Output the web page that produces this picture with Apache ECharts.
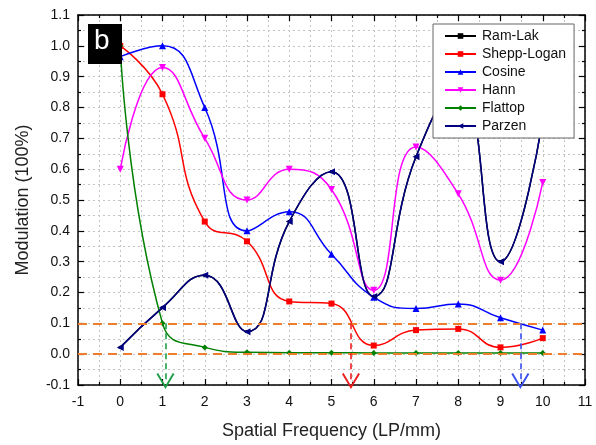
<!DOCTYPE html>
<html>
<head>
<meta charset="utf-8">
<script src="https://cdn.jsdelivr.net/npm/echarts@6/dist/echarts.min.js"></script>
<style>html,body{margin:0;padding:0;background:#fff}#c{width:596px;height:445px}</style>
</head>
<body>
<div id="c"></div>
<script>
var freq = [0, 1, 2, 3, 4, 5, 6, 7, 8, 9, 10];
var ramLak     = [0.022, 0.151, 0.256, 0.073, 0.43, 0.592, 0.187, 0.64, 0.87, 0.30, 0.76];
var sheppLogan = [1.0, 0.843, 0.43, 0.366, 0.171, 0.164, 0.028, 0.078, 0.082, 0.022, 0.052];
var cosine     = [0.965, 1.0, 0.80, 0.40, 0.462, 0.324, 0.185, 0.148, 0.163, 0.118, 0.078];
var hann       = [0.60, 0.93, 0.70, 0.50, 0.60, 0.534, 0.207, 0.672, 0.52, 0.24, 0.557];
var flattop    = [1.0, 0.10, 0.022, 0.006, 0.005, 0.005, 0.004, 0.004, 0.004, 0.004, 0.004];
var parzen     = [0.022, 0.151, 0.256, 0.073, 0.43, 0.592, 0.187, 0.64, 0.87, 0.30, 0.76];
var xTicks = [-1, 11, 1];
var yTicks = [-0.1, 1.1, 0.1];
var thresholds = [0.1, 0.0];
var arrows = [{x: 1.07, color: '#1e9e46'}, {x: 5.46, color: '#ee1c1c'}, {x: 9.47, color: '#3a50f0'}];

function pairs(arr) { return freq.map(function (f, i) { return [f, arr[i]]; }); }
var chevron = 'path://M0,16 L9,0 L18,16 L16.3,17 L9,3.6 L1.7,17 Z';
var gridLine = {color: '#c4c4c4', type: [2, 3], width: 1};
var axisLineStyle = {color: '#000', width: 1.5};

function mkX(pos, main) {
  return {
    type: 'value', position: pos, min: xTicks[0], max: xTicks[1], interval: xTicks[2],
    axisLine: {show: true, onZero: false, lineStyle: axisLineStyle},
    axisTick: {show: true, inside: true, length: 6, lineStyle: {color: '#000', width: 1.2}},
    minorTick: {show: true, splitNumber: 2, length: 3, lineStyle: {color: '#000', width: 1.2}},
    splitLine: {show: main, lineStyle: gridLine},
    minorSplitLine: {show: main, lineStyle: gridLine},
    axisLabel: {show: main, fontSize: 14, color: '#111', fontFamily: 'Liberation Sans', margin: 10},
    name: main ? 'Spatial Frequency (LP/mm)' : '', nameLocation: 'middle', nameGap: 37,
    nameTextStyle: {fontSize: 18, color: '#222', fontFamily: 'Liberation Sans'}
  };
}
function mkY(pos, main) {
  return {
    type: 'value', position: pos, min: yTicks[0], max: yTicks[1], interval: yTicks[2],
    axisLine: {show: true, onZero: false, lineStyle: axisLineStyle},
    axisTick: {show: true, inside: true, length: 6, lineStyle: {color: '#000', width: 1.2}},
    minorTick: {show: true, splitNumber: 2, length: 3, lineStyle: {color: '#000', width: 1.2}},
    splitLine: {show: main, lineStyle: gridLine},
    minorSplitLine: {show: main, lineStyle: gridLine},
    axisLabel: {show: main, fontSize: 14, color: '#111', fontFamily: 'Liberation Sans', margin: 8,
      formatter: function (v) { return (Math.round(v * 10) / 10).toFixed(1); }},
    name: main ? 'Modulation (100%)' : '', nameLocation: 'middle', nameGap: 46,
    nameTextStyle: {fontSize: 18, color: '#222', fontFamily: 'Liberation Sans'}
  };
}

function line(name, arr, color, symbol, rot, size, extra) {
  var s = {
    name: name, type: 'line', data: pairs(arr), smooth: 0.5,
    symbol: symbol, symbolSize: size, symbolRotate: rot || 0,
    lineStyle: {color: color, width: 1.5}, itemStyle: {color: color},
    xAxisIndex: 0, yAxisIndex: 0, clip: false, animation: false
  };
  if (extra) for (var k in extra) s[k] = extra[k];
  return s;
}

var hLines = {
  silent: true, symbol: ['none', 'none'], label: {show: false},
  lineStyle: {color: '#ef7d2e', type: [9, 6], width: 2.2},
  data: thresholds.map(function (t) { return {yAxis: t}; })
};
var vArrows = {
  silent: true, symbol: ['none', chevron], symbolSize: [18, 16], label: {show: false},
  lineStyle: {type: [6, 4], width: 1.6},
  data: arrows.map(function (a) {
    return [{coord: [a.x, thresholds[0]], lineStyle: {color: a.color}, itemStyle: {color: a.color}},
            {coord: [a.x, -0.087], lineStyle: {color: a.color}, itemStyle: {color: a.color}}];
  })
};

var chart = echarts.init(document.getElementById('c'), null, {renderer: 'canvas'});
chart.setOption({
  animation: false,
  backgroundColor: '#fff',
  grid: {left: 78, right: 11, top: 15, bottom: 58, containLabel: false},
  xAxis: [mkX('bottom', true), mkX('top', false)],
  yAxis: [mkY('left', true), mkY('right', false)],
  legend: {
    orient: 'vertical', left: 433, top: 24, itemWidth: 31, itemHeight: 7, itemGap: 2,
    padding: [4, 8, 4, 11], backgroundColor: '#fff', borderColor: '#666', borderWidth: 1,
    textStyle: {fontSize: 14, color: '#111', fontFamily: 'Liberation Sans', lineHeight: 16, padding: [0, 0, 0, 1]},
    data: ['Ram-Lak', 'Shepp-Logan', 'Cosine', 'Hann', 'Flattop', 'Parzen']
  },
  series: [
    line('Ram-Lak', ramLak, '#000000', 'rect', 0, 3),
    line('Shepp-Logan', sheppLogan, '#ff0000', 'rect', 0, 6),
    line('Cosine', cosine, '#0000ff', 'triangle', 0, 7),
    line('Hann', hann, '#ff00ff', 'triangle', 180, 7),
    line('Flattop', flattop, '#008000', 'diamond', 0, 6, {markLine: hLines}),
    line('Parzen', parzen, '#000080', 'triangle', 90, 7, {markLine: vArrows})
  ],
  graphic: [
    {type: 'rect', left: 88, top: 24, z: 100, shape: {width: 34, height: 40}, style: {fill: '#000'}},
    {type: 'text', left: 94, top: 27, z: 101, style: {text: 'b', fill: '#fff', font: '28px "Liberation Sans"'}}
  ]
});
</script>
</body>
</html>
